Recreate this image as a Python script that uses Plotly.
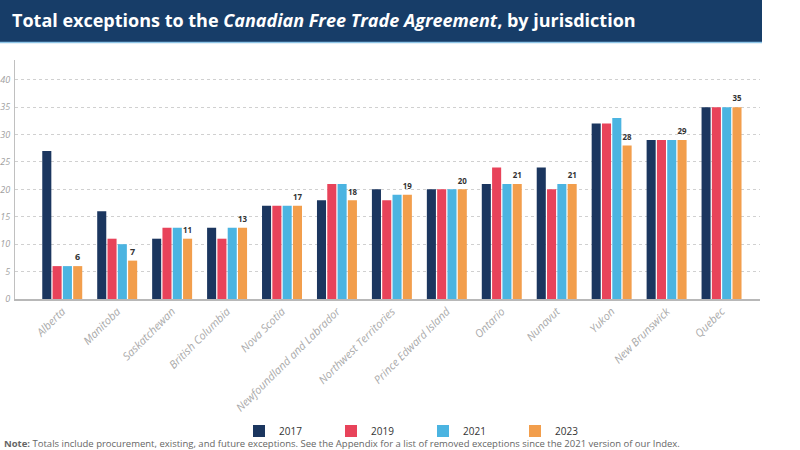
import plotly.graph_objects as go

jurisdictions = ["Alberta", "Manitoba", "Saskatchewan", "British Columbia", "Nova Scotia",
                 "Newfoundland and Labrador", "Northwest Territories", "Prince Edward Island",
                 "Ontario", "Nunavut", "Yukon", "New Brunswick", "Quebec"]
v2017 = [27, 16, 11, 13, 17, 18, 20, 20, 21, 24, 32, 29, 35]
v2019 = [6, 11, 13, 11, 17, 21, 18, 20, 24, 20, 32, 29, 35]
v2021 = [6, 10, 13, 13, 17, 21, 19, 20, 21, 21, 33, 29, 35]
v2023 = [6, 7, 11, 13, 17, 18, 19, 20, 21, 21, 28, 29, 35]
years = ["2017", "2019", "2021", "2023"]
colors = ["#1b365f", "#e8435a", "#4bb4e1", "#f29e4c"]
y_ticks = [0, 5, 10, 15, 20, 25, 30, 35, 40]

W, H = 800, 450
L, R, T, B = 15, 40, 60, 151
pw, ph = W - L - R, H - T - B

def px(x):
    return (x - L) / pw

def py(y):
    return (H - B - y) / ph

fig = go.Figure()
for yr, vals, col in zip(years, [v2017, v2019, v2021, v2023], colors):
    fig.add_trace(go.Bar(
        x=jurisdictions, y=vals, name=yr, marker=dict(color=col, line=dict(width=0)),
        text=vals if yr == "2023" else None,
        textposition="outside" if yr == "2023" else "none",
        textfont=dict(family="Open Sans", size=9, color="#333333", weight="bold"),
        cliponaxis=False,
    ))

fig.update_layout(
    width=W, height=H,
    margin=dict(l=L, r=R, t=T, b=B, autoexpand=False),
    paper_bgcolor="white", plot_bgcolor="white",
    barmode="group", bargap=0.25, bargroupgap=0.12,
    font=dict(family="Open Sans", color="#555555"),
    xaxis=dict(
        range=[-0.86, 12.7], tickangle=-45, automargin=False,
        tickfont=dict(family="Open Sans", size=11, color="#aaaaaa", style="italic"),
        showline=True, linecolor="#b8b8b8", linewidth=1.5, showgrid=False, ticks="",
    ),
    yaxis=dict(
        range=[0, 43.6], tickvals=y_ticks, automargin=False,
        tickfont=dict(family="Open Sans", size=9, color="#a0a0a0", style="italic"),
        showline=True, linecolor="#c0c0c0", linewidth=1,
        showgrid=True, gridcolor="#d0d0d0", griddash="dot", gridwidth=1,
        zeroline=False, ticks="", ticklabelstandoff=2,
    ),
    legend=dict(
        orientation="h", x=px(423), xanchor="center", y=py(431), yanchor="middle",
        font=dict(family="Open Sans", size=10, color="#333333"),
        itemwidth=30, entrywidth=47, entrywidthmode="pixels", traceorder="normal",
    ),
    shapes=[
        dict(type="rect", xref="paper", yref="paper", x0=px(0), x1=px(762), y0=py(42), y1=py(0),
             fillcolor="#173d68", line=dict(width=0), layer="above"),
        dict(type="line", xref="paper", yref="paper", x0=px(0), x1=px(762), y0=py(42.5), y1=py(42.5),
             line=dict(color="#8fc6e8", width=1.5), layer="above"),
    ],
    annotations=[
        dict(text="Total exceptions to the <i>Canadian Free Trade Agreement</i>, by jurisdiction",
             xref="paper", yref="paper", x=px(10), y=py(20), xanchor="left", yanchor="middle",
             showarrow=False, font=dict(family="Open Sans", size=18, color="white", weight="bold")),
        dict(text="<b>Note:</b> Totals include procurement, existing, and future exceptions. See the Appendix for a list of removed exceptions since the 2021 version of our Index.",
             xref="paper", yref="paper", x=px(2), y=py(443), xanchor="left", yanchor="middle",
             showarrow=False, font=dict(family="Open Sans", size=9.5, color="#666666")),
    ],
)

fig.write_html("out.html", config={"displayModeBar": False},
               post_script="document.body.style.margin='0';")
